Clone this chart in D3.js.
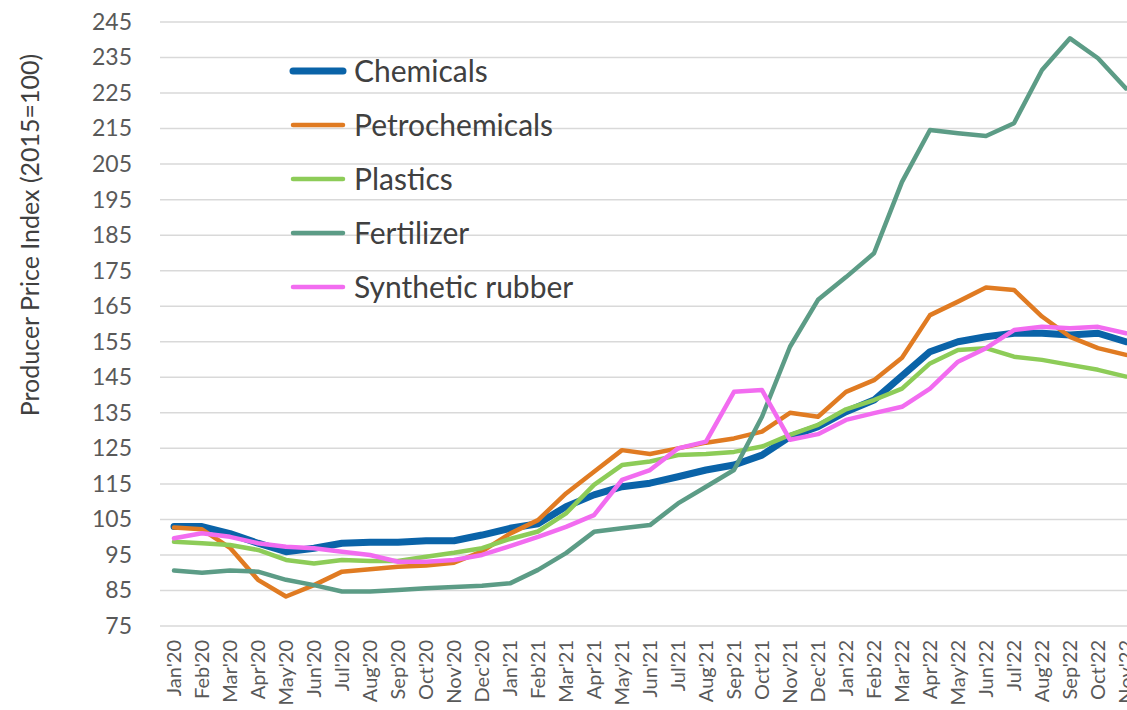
<!DOCTYPE html>
<html>
<head>
<meta charset="utf-8">
<script src="https://cdn.jsdelivr.net/npm/d3@7"></script>
<style>
    body { margin: 0; background: #fff; }
    #chart { width: 1127px; height: 710px; overflow: hidden; }
    text { font-family: Lato, "Open Sans", sans-serif; }
</style>
</head>
<body>
<div id="chart"></div>
<script>
//Datos
const months = ["Jan'20","Feb'20","Mar'20","Apr'20","May'20","Jun'20","Jul'20","Aug'20","Sep'20","Oct'20","Nov'20","Dec'20",
    "Jan'21","Feb'21","Mar'21","Apr'21","May'21","Jun'21","Jul'21","Aug'21","Sep'21","Oct'21","Nov'21","Dec'21",
    "Jan'22","Feb'22","Mar'22","Apr'22","May'22","Jun'22","Jul'22","Aug'22","Sep'22","Oct'22","Nov'22"];

const chemicals = [103.0,103.0,101.0,98.3,95.9,96.9,98.3,98.6,98.6,99.0,99.0,100.6,
    102.5,103.8,108.6,111.9,114.2,115.2,117.0,118.9,120.3,123.1,128.3,131.1,
    135.3,138.6,145.4,152.2,155.0,156.4,157.4,157.4,156.9,157.4,155.0];

const petrochemicals = [102.7,102.2,97.0,88.0,83.3,86.5,90.3,91.0,91.7,92.0,92.8,96.0,
    101.0,104.8,112.3,118.4,124.5,123.4,125.0,126.6,127.8,129.7,135.0,133.9,
    140.9,144.2,150.5,162.5,166.3,170.3,169.6,162.1,156.4,153.2,151.3];

const plastics = [98.7,98.3,97.8,96.4,93.6,92.6,93.6,93.3,93.3,94.5,95.6,96.9,
    99.5,101.6,106.7,114.7,120.3,121.3,123.1,123.4,124.0,125.5,128.8,131.6,
    136.0,138.6,141.8,148.9,152.7,153.2,150.8,149.9,148.5,147.1,145.2];

const fertilizer = [90.6,90.0,90.6,90.3,88.0,86.5,84.7,84.7,85.1,85.6,86.0,86.3,
    87.0,90.8,95.5,101.5,102.5,103.4,109.5,114.2,118.9,133.9,153.6,166.8,
    173.2,179.9,200.0,214.6,213.7,212.9,216.5,231.5,240.4,234.8,226.3];

const syntheticRubber = [99.7,101.1,100.1,98.3,97.3,96.9,95.9,95.0,93.1,93.1,93.6,95.0,
    97.5,100.1,102.9,106.2,116.1,118.9,125.0,126.9,140.9,141.4,127.4,129.0,
    133.0,134.9,136.7,141.8,149.4,153.2,158.3,159.2,158.8,159.2,157.4];

const seriesNames = ['Chemicals','Petrochemicals','Plastics','Fertilizer','Synthetic rubber'];
const yTicks = [75,85,95,105,115,125,135,145,155,165,175,185,195,205,215,225,235,245];

//Colores fijos
const COLOR_CHEM = '#0a63a8',
COLOR_PETRO = '#e07b22',
COLOR_PLAST = '#8dcc58',
COLOR_FERT = '#5c9c86',
COLOR_RUBBER = '#f26cf0',
COLOR_GRID = '#d9d9d9',
COLOR_TEXT = '#595959';

let series = [
    { name: seriesNames[0], values: chemicals, color: COLOR_CHEM, width: 7 },
    { name: seriesNames[1], values: petrochemicals, color: COLOR_PETRO, width: 4.5 },
    { name: seriesNames[2], values: plastics, color: COLOR_PLAST, width: 4.5 },
    { name: seriesNames[3], values: fertilizer, color: COLOR_FERT, width: 4.5 },
    { name: seriesNames[4], values: syntheticRubber, color: COLOR_RUBBER, width: 4.5 }
];

//Desarrollo del gráfico
let width = 1127, height = 710;

let svg = d3.select('#chart')
    .append('svg')
        .attr('width', width)
        .attr('height', height);

// El eje X continúa más allá del borde derecho (Nov'22 queda cortado)
let x = d3.scaleBand()
    .domain(months)
    .range([160, 1140])
    .padding(0);

let y = d3.scaleLinear()
    .domain([75, 245])
    .range([626, 22]);

let xc = function(d) { return x(d) + x.bandwidth() / 2; };

//Líneas de rejilla
svg.append('g')
    .selectAll('line')
    .data(yTicks)
    .enter()
    .append('line')
        .attr('x1', 160)
        .attr('x2', 1140)
        .attr('y1', function(d) { return y(d); })
        .attr('y2', function(d) { return y(d); })
        .attr('stroke', COLOR_GRID)
        .attr('stroke-width', 1.5);

// Eje Y
let yAxis = svg.append('g')
    .attr('transform', 'translate(160,0)')
    .call(d3.axisLeft(y).tickValues(yTicks).tickSize(0).tickPadding(28));
yAxis.select('.domain').remove();
yAxis.selectAll('text')
    .attr('font-family', 'Lato, sans-serif')
    .attr('font-size', 23)
    .attr('fill', COLOR_TEXT);

// Eje X
let xAxis = svg.append('g')
    .attr('transform', 'translate(0,626)')
    .call(d3.axisBottom(x).tickSize(0));
xAxis.select('.domain').remove();
xAxis.selectAll('text')
    .attr('font-family', 'Lato, sans-serif')
    .attr('font-size', 20)
    .attr('fill', COLOR_TEXT)
    .attr('transform', 'rotate(-90)')
    .attr('text-anchor', 'end')
    .attr('x', -14)
    .attr('y', 0)
    .attr('dy', '0.35em');

// Título eje Y
svg.append('text')
    .attr('transform', 'translate(30,235) rotate(-90)')
    .attr('text-anchor', 'middle')
    .attr('dy', '0.35em')
    .attr('font-size', 25)
    .attr('fill', '#404040')
    .text('Producer Price Index (2015=100)');

//Líneas
let line = d3.line()
    .x(function(d, i) { return xc(months[i]); })
    .y(function(d) { return y(d); });

svg.append('g')
    .selectAll('path')
    .data(series)
    .enter()
    .append('path')
        .attr('fill', 'none')
        .attr('stroke', function(d) { return d.color; })
        .attr('stroke-width', function(d) { return d.width; })
        .attr('stroke-linejoin', 'round')
        .attr('stroke-linecap', 'round')
        .attr('d', function(d) { return line(d.values); });

//Leyenda
let legend = svg.append('g')
    .selectAll('g')
    .data(series)
    .enter()
    .append('g')
        .attr('transform', function(d, i) { return 'translate(293,' + (71 + i * 54) + ')'; });

legend.append('line')
    .attr('x1', 0)
    .attr('x2', 50)
    .attr('stroke', function(d) { return d.color; })
    .attr('stroke-width', function(d) { return d.width; })
    .attr('stroke-linecap', 'round');

legend.append('text')
    .attr('x', 61)
    .attr('dy', '0.35em')
    .attr('font-size', 30)
    .attr('fill', '#404040')
    .text(function(d) { return d.name; });
</script>
</body>
</html>
